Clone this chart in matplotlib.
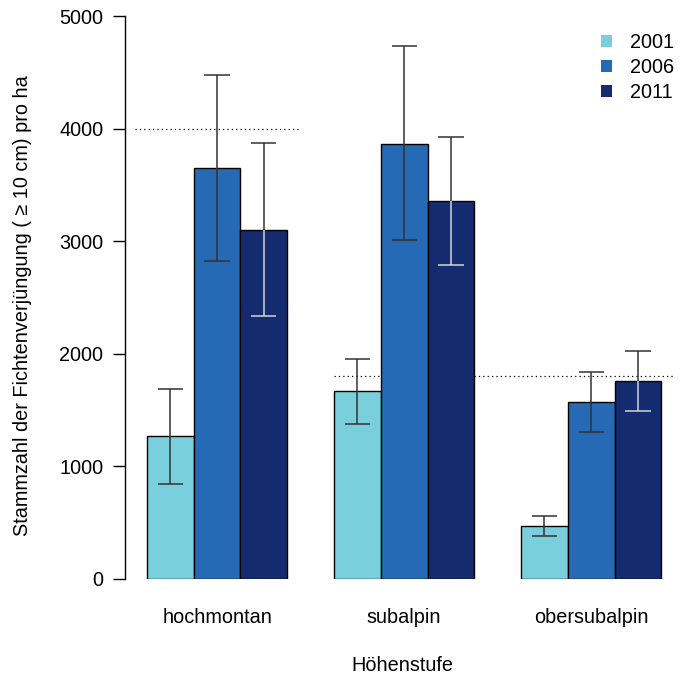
import numpy as np
import matplotlib
matplotlib.use("Agg")
import matplotlib.pyplot as plt
from matplotlib.patches import Patch

plt.rcParams["font.family"] = ["Liberation Sans", "DejaVu Sans"]

groups = ["hochmontan", "subalpin", "obersubalpin"]
years = ["2001", "2006", "2011"]
colors = ["#7acfdc", "#2669b5", "#142c6f"]

means = {
    "2001": [1270, 1670, 471],
    "2006": [3650, 3863, 1572],
    "2011": [3100, 3357, 1758],
}
lower = {
    "2001": [844, 1376, 382],
    "2006": [2824, 3010, 1305],
    "2011": [2336, 2789, 1492],
}
upper = {
    "2001": [1687, 1954, 560],
    "2006": [4476, 4734, 1838],
    "2011": [3872, 3925, 2025],
}

# reference lines (value, x from, x to)
ref_lines = [(4000, 0.75, 4.23), (1800, 5.0, 12.3)]

fs = 14.3
fig = plt.figure(figsize=(6.9, 6.78), dpi=100)
ax = fig.add_axes([125 / 690, 99 / 678, 555 / 690, 563 / 678])

cap = 0.27
for i, yr in enumerate(years):
    x = np.arange(len(groups)) * 4 + 1.5 + i
    ax.bar(x, means[yr], width=1.0, color=colors[i], edgecolor="black",
           linewidth=1.0, zorder=2)
    for xi, m, lo, hi in zip(x, means[yr], lower[yr], upper[yr]):
        low_col = "#d4d4d4" if yr == "2011" else "#333333"
        ax.vlines(xi, m, hi, color="#333333", lw=1.1, zorder=3)
        ax.hlines(hi, xi - cap, xi + cap, color="#333333", lw=1.1, zorder=3)
        ax.vlines(xi, lo, m, color=low_col, lw=1.1, zorder=3)
        ax.hlines(lo, xi - cap, xi + cap, color=low_col, lw=1.1, zorder=3)

for val, x0, x1 in ref_lines:
    ax.hlines(val, x0, x1, color="black", lw=0.9, linestyles=(0, (1, 2.5)),
              zorder=1)

ax.set_xlim(0.53, 12.4)
ax.set_ylim(0, 5000)
for s in ["top", "right", "bottom"]:
    ax.spines[s].set_visible(False)
ax.spines["left"].set_linewidth(1.0)
ax.set_yticks(np.arange(0, 5001, 1000))
ax.tick_params(axis="y", length=8.5, width=1.0, labelsize=fs, pad=7)
ax.set_xticks(np.arange(len(groups)) * 4 + 2.5)
ax.set_xticklabels(groups, fontsize=fs)
ax.tick_params(axis="x", length=0, pad=21)

ax.set_xlabel("Höhenstufe", fontsize=fs, labelpad=21)
ax.set_ylabel("Stammzahl der Fichtenverjüngung ( ≥ 10 cm) pro ha",
              fontsize=fs)
ax.yaxis.set_label_coords(-0.168, 0.485)

handles = [Patch(facecolor=c, edgecolor="none") for c in colors]
ax.legend(handles, years, loc="upper right",
          bbox_to_anchor=(674 / 690, (678 - 33) / 678),
          bbox_transform=fig.transFigure, borderaxespad=0, borderpad=0,
          frameon=False, fontsize=fs, handlelength=0.55, handleheight=0.55,
          handletextpad=0.9, labelspacing=0.3)

fig.savefig("out.png", dpi=100)
